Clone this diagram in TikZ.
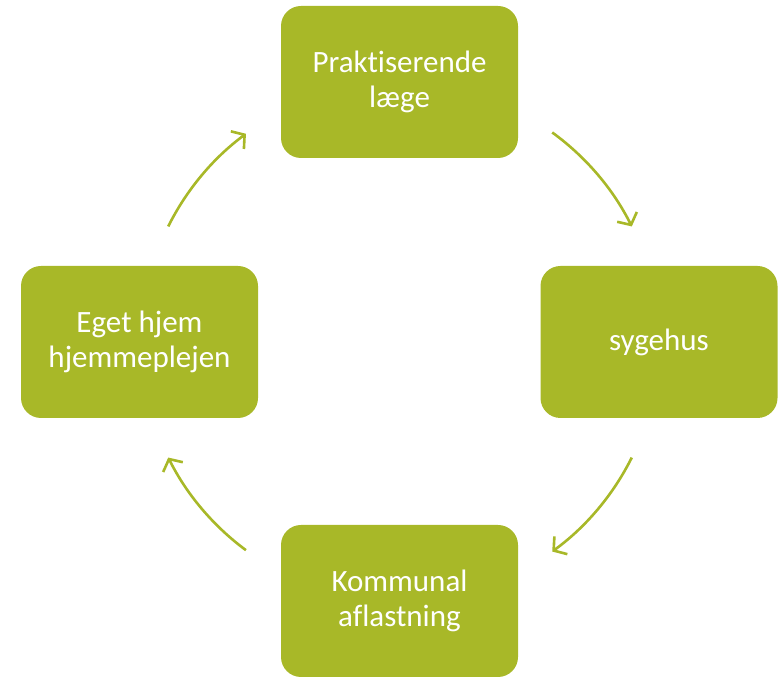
\documentclass[tikz,border=0pt]{standalone}
\usepackage{fontspec}
\setmainfont[Ligatures={NoCommon}]{Carlito}
\usetikzlibrary{arrows.meta}
\definecolor{olive}{HTML}{A8B828}
\begin{document}
\begin{tikzpicture}[x=1pt,y=1pt,
  stagebox/.style={fill=olive, draw=none, rounded corners=20pt, minimum width=237pt, minimum height=152pt, text=white, align=center, font=\fontsize{31}{35}\selectfont, inner sep=0pt},
  cyc/.style={draw=olive, line width=2.6pt, -{Straight Barb[length=9pt,width=22pt,line width=2.6pt]}}]
\useasboundingbox (0,0) rectangle (782,677);
\coordinate (c) at (400,335);
\node[stagebox] (top) at (399.5,595) {Praktiserende\\læge};
\node[stagebox] (right) at (659,335) {sygehus};
\node[stagebox] (bottom) at (399.5,76) {Kommunal\\aflastning};
\node[stagebox] (left) at (139.5,335) {Eget hjem\\hjemmeplejen};
\draw[cyc] (c) ++(54:259pt) arc[start angle=54, end angle=26.5, radius=259pt];
\draw[cyc] (c) ++(-26.5:259pt) arc[start angle=-26.5, end angle=-54, radius=259pt];
\draw[cyc] (c) ++(233.5:259pt) arc[start angle=233.5, end angle=206.5, radius=259pt];
\draw[cyc] (c) ++(153.5:259pt) arc[start angle=153.5, end angle=126.5, radius=259pt];
\end{tikzpicture}
\end{document}
